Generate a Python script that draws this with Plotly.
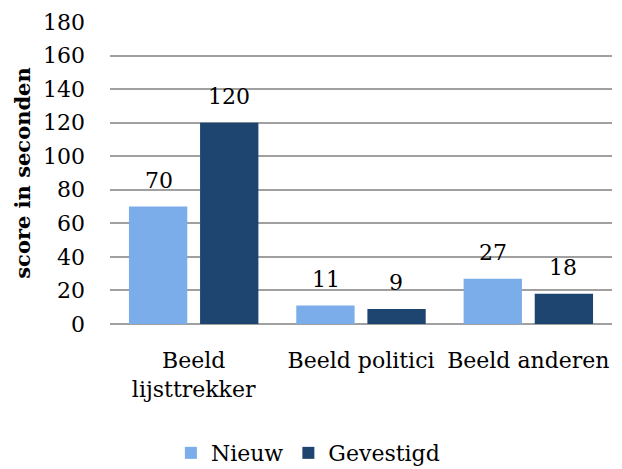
import plotly.graph_objects as go

categories = ["Beeld<br>lijsttrekker", "Beeld politici", "Beeld anderen"]
nieuw = [70, 11, 27]
gevestigd = [120, 9, 18]
y_ticks = [0, 20, 40, 60, 80, 100, 120, 140, 160, 180]

FONT = "DejaVu Serif"
FS = 22

fig = go.Figure()
fig.add_trace(go.Bar(name="Nieuw", x=categories, y=nieuw,
                     marker=dict(color="#7badea", line=dict(width=0))))
fig.add_trace(go.Bar(name="Gevestigd", x=categories, y=gevestigd,
                     marker=dict(color="#1d4570", line=dict(width=0))))

for vals, shift in ((nieuw, -35), (gevestigd, 35)):
    for c, v in zip(categories, vals):
        fig.add_annotation(x=c, y=v, text=str(v), showarrow=False,
                           xshift=shift, yanchor="bottom", yshift=12,
                           font=dict(family=FONT, size=FS, color="#000"))

fig.update_layout(
    width=622, height=469,
    margin=dict(l=110, r=10, t=18, b=145),
    paper_bgcolor="white", plot_bgcolor="white",
    barmode="group", bargap=0.15, bargroupgap=0.18,
    font=dict(family=FONT, size=FS, color="#000"),
    showlegend=True,
    legend=dict(orientation="h", xref="container", x=0.495, xanchor="center",
                yref="container", y=0.034, yanchor="middle",
                font=dict(family=FONT, size=FS), itemsizing="constant"),
    xaxis=dict(showgrid=False, showline=False, ticks="", tickfont=dict(size=FS),
               ticklabelstandoff=21),
    yaxis=dict(range=[0, 180], tickvals=y_ticks, showgrid=True, gridcolor="#a0a0a0",
               gridwidth=1.5, showline=False, zeroline=True, zerolinecolor="#a0a0a0",
               zerolinewidth=1.5, ticks="", ticklabelstandoff=24,
               tickfont=dict(size=FS),
               title=dict(text="<b>score in seconden</b>", font=dict(size=21), standoff=6)),
)

fig.write_html("out.html")
